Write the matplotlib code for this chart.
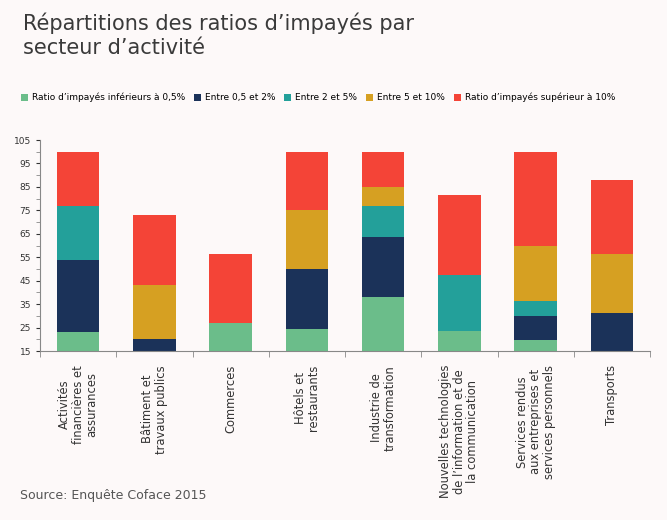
import matplotlib.pyplot as plt
import numpy as np

secteurs = ["Activités\nfinancières et\nassurances", "Bâtiment et\ntravaux publics", "Commerces",
            "Hôtels et\nrestaurants", "Industrie de\ntransformation",
            "Nouvelles technologies\nde l’information et de\nla communication",
            "Services rendus\naux entreprises et\nservices personnels", "Transports"]
series = ["Ratio d’impayés inférieurs à 0,5%", "Entre 0,5 et 2%", "Entre 2 et 5%",
          "Entre 5 et 10%", "Ratio d’impayés supérieur à 10%"]
vert = [8, 0, 12, 9.5, 23, 8.7, 4.7, 0]
marine = [31, 5, 0, 25.5, 25.5, 0, 10.3, 16]
sarcelle = [23, 0, 0, 0, 13.5, 23.8, 6.5, 0]
or_ = [0, 23, 0, 25, 8, 0, 23.5, 25.5]
rouge = [23, 30, 29.5, 25, 15, 34, 40, 31.5]
colors = ["#6bbd8a", "#1b3259", "#23a09a", "#d6a022", "#f44437"]

bg = "#fdf9f9"
fig = plt.figure(figsize=(6.67, 5.2), dpi=100, facecolor=bg)
ax = fig.add_axes([40 / 667, 1 - 351 / 520, 610 / 667, 211 / 520], facecolor=bg)

x = np.arange(len(secteurs))
bottom = np.full(len(secteurs), 15.0)
for vals, c, lab in zip([vert, marine, sarcelle, or_, rouge], colors, series):
    ax.bar(x, vals, 0.56, bottom=bottom, color=c, label=lab)
    bottom += np.array(vals)

ax.set_ylim(15, 105)
ax.set_xlim(-0.5, len(secteurs) - 0.5)
ax.set_yticks(range(15, 106, 10))
ax.set_yticks(range(20, 106, 10), minor=True)
ax.set_xticks(x)
ax.set_xticklabels(secteurs, rotation=90, fontsize=8.3, color="#333333", linespacing=1.05)
ax.set_xticks(np.arange(-0.5, len(secteurs)), minor=True)
ax.tick_params(axis="x", which="major", length=0, pad=10)
ax.tick_params(axis="x", which="minor", length=4, color="#888888")
ax.tick_params(axis="y", labelsize=6.5, colors="#333333", length=3)
ax.tick_params(axis="y", which="minor", length=3, color="#888888")
for s in ["top", "right"]:
    ax.spines[s].set_visible(False)
for s in ["left", "bottom"]:
    ax.spines[s].set_color("#888888")

ax.legend(loc="lower left", bbox_to_anchor=(-0.045, 1.14), ncol=5, frameon=False,
          fontsize=6.5, handlelength=0.8, handleheight=0.8, columnspacing=1.0, handletextpad=0.4)

fig.text(0.035, 0.975, "Répartitions des ratios d’impayés par\nsecteur d’activité", fontsize=15,
         color="#3a3a3a", va="top", ha="left", linespacing=1.25, fontweight="medium")
fig.text(0.03, 0.04, "Source: Enquête Coface 2015", fontsize=9, color="#555555")

fig.savefig("out.png", dpi=100, facecolor=bg)
